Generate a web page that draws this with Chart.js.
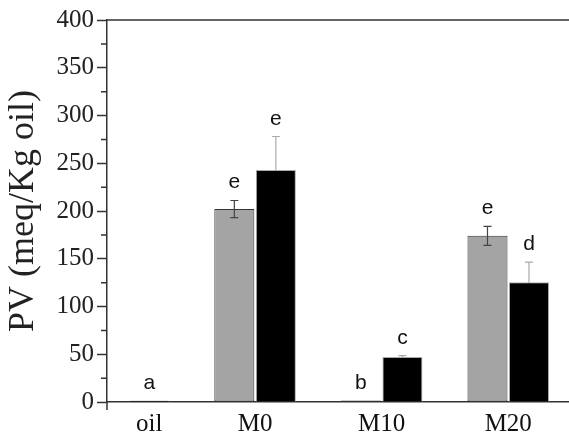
<!DOCTYPE html>
<html>
<head>
<meta charset="utf-8">
<title>PV chart</title>
<script src="https://cdn.jsdelivr.net/npm/chart.js@4/dist/chart.umd.min.js"></script>
<style>
  html, body { margin: 0; padding: 0; background: #fff; }
  canvas { display: block; }
</style>
</head>
<body>
<canvas id="chart" width="569" height="443"></canvas>
<script>
// values
const categories = ['oil', 'M0', 'M10', 'M20']
const grayValues = [null, 202, 1.5, 174]
const grayErrors = [0, 9, 0, 10]
const grayLetters = ['', 'e', 'b', 'e']
const blackValues = [1.5, 243, 47, 125.5]
const blackErrors = [0, 35, 1.5, 21]
const blackLetters = ['a', 'e', 'c', 'd']

const serif = "'Liberation Serif', 'Times New Roman', serif"
const sans = "'Liberation Sans', Arial, sans-serif"

const toPoints = values => values.map((v, i) => ({ x: i, y: v }))

// error bars, letters, category labels and frame bits
function drawErrors(chart, front) {
  const { ctx, scales: { y } } = chart
  chart.data.datasets.forEach((ds, di) => {
    if (ds.errorFront !== front) return
    chart.getDatasetMeta(di).data.forEach((bar, i) => {
      const v = ds.data[i].y
      const e = ds.errors[i]
      if (v == null || !e) return
      const top = y.getPixelForValue(v + e)
      const bot = y.getPixelForValue(v - e)
      ctx.save()
      ctx.strokeStyle = ds.errorColor
      ctx.lineWidth = 1.2
      ctx.beginPath()
      ctx.moveTo(bar.x, top); ctx.lineTo(bar.x, bot)
      ctx.moveTo(bar.x - 4, top); ctx.lineTo(bar.x + 4, top)
      ctx.moveTo(bar.x - 4, bot); ctx.lineTo(bar.x + 4, bot)
      ctx.stroke()
      ctx.restore()
    })
  })
}

const extras = {
  id: 'extras',
  beforeDatasetsDraw(chart) {
    drawErrors(chart, false)
  },
  afterDatasetsDraw(chart) {
    drawErrors(chart, true)
    const { ctx, chartArea, scales: { y } } = chart

    ctx.save()
    ctx.fillStyle = '#111'
    ctx.textAlign = 'center'
    ctx.textBaseline = 'alphabetic'

    // significance letters
    ctx.font = '21px ' + sans
    chart.data.datasets.forEach((ds, di) => {
      chart.getDatasetMeta(di).data.forEach((bar, i) => {
        const v = ds.data[i].y
        if (v == null || !ds.letters[i]) return
        ctx.fillText(ds.letters[i], bar.x, y.getPixelForValue(v + ds.errors[i]) - 12)
      })
    })

    // category labels under the bars that are drawn
    ctx.font = '25px ' + serif
    categories.forEach((c, i) => {
      const xs = []
      chart.data.datasets.forEach((ds, di) => {
        if (ds.data[i].y != null) xs.push(chart.getDatasetMeta(di).data[i].x)
      })
      const cx = xs.reduce((a, b) => a + b, 0) / xs.length
      ctx.fillText(c, cx, chartArea.bottom + 29)
    })
    ctx.restore()
  },
  afterDraw(chart) {
    const { ctx, chartArea, scales: { y } } = chart
    ctx.save()
    ctx.strokeStyle = '#333'
    ctx.lineWidth = 1.5
    ctx.beginPath()
    // top frame line
    ctx.moveTo(chartArea.left, chartArea.top)
    ctx.lineTo(chartArea.right, chartArea.top)
    // y axis continues a little below the x axis
    ctx.moveTo(chartArea.left, chartArea.bottom)
    ctx.lineTo(chartArea.left, chartArea.bottom + 8)
    // minor ticks halfway between the labelled ones
    for (let k = 0; k < y.ticks.length - 1; k++) {
      const py = y.getPixelForValue((y.ticks[k].value + y.ticks[k + 1].value) / 2)
      ctx.moveTo(chartArea.left - 6, py)
      ctx.lineTo(chartArea.left, py)
    }
    ctx.stroke()
    ctx.restore()
  }
}

const chart = document.querySelector('#chart').getContext('2d')

new Chart(chart, {
  type: 'bar',
  data: {
    datasets: [
      {
        label: 'gray',
        data: toPoints(grayValues),
        backgroundColor: '#a4a4a4',
        borderColor: '#333',
        borderWidth: 1,
        borderSkipped: false,
        errors: grayErrors,
        letters: grayLetters,
        errorColor: '#444',
        errorFront: true
      },
      {
        label: 'black',
        data: toPoints(blackValues),
        backgroundColor: '#000',
        borderColor: '#aaa',
        borderWidth: 1,
        errors: blackErrors,
        letters: blackLetters,
        errorColor: '#aaa',
        errorFront: false
      }
    ]
  },
  options: {
    responsive: false,
    animation: false,
    layout: { padding: { top: 20, right: 0, left: 0, bottom: 0 } },
    datasets: { bar: { categoryPercentage: 0.656, barPercentage: 0.964 } },
    plugins: {
      legend: { display: false },
      tooltip: { enabled: false }
    },
    scales: {
      x: {
        type: 'linear',
        offset: false,
        min: -0.17,
        max: 3.48,
        grid: { display: false, offset: false },
        ticks: { display: false },
        border: { color: '#333', width: 1.5 },
        afterBuildTicks(s) { s.ticks = categories.map((c, i) => ({ value: i })) },
        afterFit(s) { s.height = 41 }
      },
      y: {
        min: 0,
        max: 400,
        ticks: {
          stepSize: 50,
          padding: 3,
          color: '#222',
          font: { family: serif, size: 25 }
        },
        grid: { drawOnChartArea: false, tickLength: 10, tickColor: '#333', tickWidth: 1.5 },
        border: { color: '#333', width: 1.5 },
        title: {
          display: true,
          text: 'PV (meq/Kg oil)',
          color: '#222',
          padding: { top: 2, bottom: 0 },
          font: { family: serif, size: 36 }
        },
        afterFit(s) { s.width = 107 }
      }
    }
  },
  plugins: [extras]
})
</script>
</body>
</html>
